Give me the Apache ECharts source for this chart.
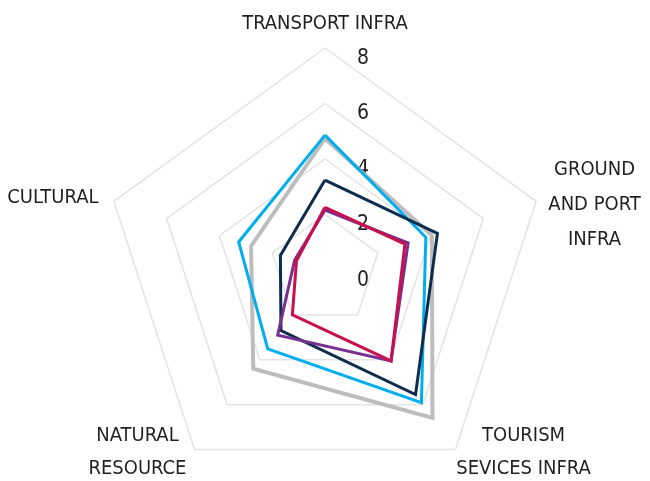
<!DOCTYPE html>
<html>
<head>
<meta charset="utf-8">
<script src="https://cdn.jsdelivr.net/npm/echarts@6/dist/echarts.min.js"></script>
<style>
  html, body { margin: 0; padding: 0; background: #ffffff; }
  #chart { width: 650px; height: 481px; }
</style>
</head>
<body>
<div id="chart"></div>
<script>
// Indicators in ECharts order (counter-clockwise from the top)
const categories = ['TRANSPORT INFRA', 'CULTURAL', 'NATURAL\nRESOURCE', 'TOURISM\nSEVICES INFRA', 'GROUND\nAND PORT\nINFRA'];
const tickLabels = [0, 2, 4, 6, 8];

const seriesGray    = [4.74, 2.80, 4.40, 6.59, 4.05];
const seriesBlue    = [4.86, 3.27, 3.51, 5.91, 3.82];
const seriesNavy    = [3.24, 1.69, 2.70, 5.55, 4.26];
const seriesPurple  = [2.16, 1.15, 2.90, 4.05, 3.15];
const seriesCrimson = [2.26, 1.08, 2.00, 4.05, 3.03];

const FONT = "'Liberation Sans Narrow', 'DejaVu Sans Condensed', sans-serif";
const TEXT = '#231f20';
const FS = 20;

const nameStyleKey = {
  'TRANSPORT INFRA': 'p',
  'CULTURAL': 'c',
  'NATURAL\nRESOURCE': 'n',
  'TOURISM\nSEVICES INFRA': 't',
  'GROUND\nAND PORT\nINFRA': 'g'
};
const namePadding = {
  'TRANSPORT INFRA': [0, 0, 0, 0],
  'CULTURAL': [0, 0, 0, 0],
  'NATURAL\nRESOURCE': [0, 0, 14, 0],
  'TOURISM\nSEVICES INFRA': [0, 0, 14, 0],
  'GROUND\nAND PORT\nINFRA': [14, 0, 0, 0]
};

const indicator = categories.map((name, i) => ({
  name: name,
  min: tickLabels[0],
  max: tickLabels[tickLabels.length - 1],
  axisLabel: { show: i === 0 },
  nameTextStyle: { padding: namePadding[name] }
}));

const chart = echarts.init(document.getElementById('chart'), null, { renderer: 'canvas' });

function line(name, data, color, width, z) {
  return {
    type: 'radar',
    name: name,
    z: z,
    symbol: 'none',
    lineStyle: { color: color, width: width, join: 'miter' },
    itemStyle: { color: color },
    data: [{ value: data, name: name }]
  };
}

chart.setOption({
  animation: false,
  backgroundColor: '#ffffff',
  radar: {
    center: [325, 270],
    radius: 222,
    startAngle: 90,
    splitNumber: tickLabels.length - 1,
    shape: 'polygon',
    indicator: indicator,
    nameGap: 12,
    axisName: {
      color: TEXT,
      fontFamily: FONT,
      fontSize: FS,
      lineHeight: 35,
      formatter: function (value) {
        const key = nameStyleKey[value];
        if (!key) return value;
        return value.split('\n').map(s => '{' + key + '|' + s + '}').join('\n');
      },
      rich: {
        p: { fontFamily: FONT, fontSize: FS, color: TEXT, lineHeight: 24 },
        c: { fontFamily: FONT, fontSize: FS, color: TEXT, padding: [0, 4, 0, 0] },
        n: { fontFamily: FONT, fontSize: FS, color: TEXT, lineHeight: 33, width: 96, align: 'center', padding: [0, 2, 0, 0] },
        t: { fontFamily: FONT, fontSize: FS, color: TEXT, lineHeight: 33, width: 122, align: 'center' },
        g: { fontFamily: FONT, fontSize: FS, color: TEXT, lineHeight: 35, width: 94, align: 'center' }
      }
    },
    axisLine: { show: false },
    axisTick: { show: false },
    axisLabel: {
      show: false,
      showMinLabel: true,
      showMaxLabel: true,
      color: TEXT,
      fontFamily: FONT,
      fontSize: FS + 1,
      margin: -38,
      align: 'center',
      verticalAlign: 'top'
    },
    splitLine: { lineStyle: { color: '#e3e3e3', width: 1.5 } },
    splitArea: { show: false }
  },
  series: [
    line('Gray', seriesGray, '#bdbdbf', 4, 2),
    line('Blue', seriesBlue, '#00aeef', 3, 3),
    line('Navy', seriesNavy, '#0d2c4e', 3, 4),
    line('Purple', seriesPurple, '#77308f', 3, 5),
    line('Crimson', seriesCrimson, '#c8104f', 3, 6)
  ]
});
</script>
</body>
</html>
